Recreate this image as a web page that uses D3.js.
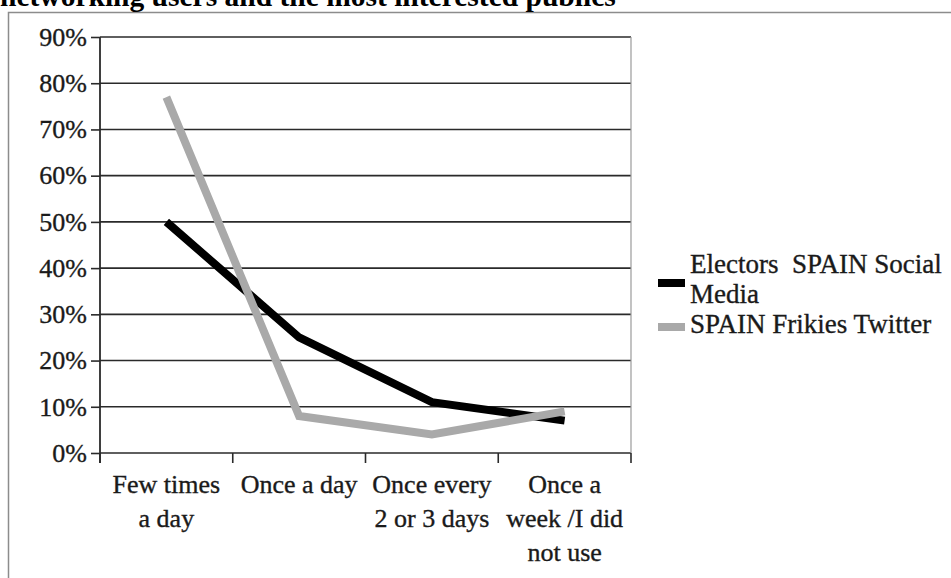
<!DOCTYPE html>
<html>
<head>
<meta charset="utf-8">
<script src="https://cdn.jsdelivr.net/npm/d3@7"></script>
<style>
  html, body { margin: 0; padding: 0; background: #fff; }
  svg { display: block; }
  text { font-family: "Liberation Serif", "Times New Roman", serif; fill: #1a1a1a; stroke: #1a1a1a; stroke-width: 0.35px; }
  text.title { stroke: none; }
</style>
</head>
<body>
<svg id="chart" width="951" height="578"></svg>
<script>
const title = "networking users and the most interested publics";
const categories = ["Few times a day", "Once a day", "Once every 2 or 3 days", "Once a week /I did not use"];
const categoryLines = [["Few times", "a day"], ["Once a day"], ["Once every", "2 or 3 days"], ["Once a", "week /I did", "not use"]];
const electors = [0.50, 0.25, 0.11, 0.07];
const frikies = [0.77, 0.08, 0.04, 0.09];
const yTicks = [0, 0.1, 0.2, 0.3, 0.4, 0.5, 0.6, 0.7, 0.8, 0.9];
const seriesNames = [["Electors\u00a0\u00a0SPAIN Social", "Media"], ["SPAIN Frikies Twitter"]];

(function () {
const svg = d3.select("#chart");
const pL = 100, pR = 631, pT = 37, pB = 453;
const fs = 26;

// outer frame
svg.append("rect").attr("x", 8.5).attr("y", 12.5).attr("width", 1000).attr("height", 700)
  .attr("fill", "none").attr("stroke", "#8c8c8c").attr("stroke-width", 1.5);

// title (cut at top, as in the source)
svg.append("text").attr("class", "title").attr("x", 0).attr("y", 6).attr("font-weight", "bold")
  .style("font-size", "29.5px").style("fill", "#000").text(title);

const x = d3.scaleBand().domain(categories).range([pL, pR]);
const y = d3.scaleLinear().domain([0, 0.9]).range([pB, pT]);

// gridlines
svg.append("g").selectAll("line").data(yTicks).join("line")
  .attr("x1", pL).attr("x2", pR)
  .attr("y1", d => y(d)).attr("y2", d => y(d))
  .attr("stroke", "#2a2a2a").attr("stroke-width", 1.6);

// right border of plot
svg.append("line").attr("x1", pR).attr("x2", pR).attr("y1", pT).attr("y2", pB)
  .attr("stroke", "#9a9a9a").attr("stroke-width", 1.2);

// y axis
const yAxis = svg.append("g").attr("transform", `translate(${pL},0)`)
  .call(d3.axisLeft(y).tickValues(yTicks).tickFormat(d3.format(".0%")).tickSize(9).tickSizeOuter(0).tickPadding(4));
yAxis.attr("font-family", null).attr("font-size", null);
yAxis.select(".domain").remove();
yAxis.selectAll(".tick line").attr("stroke", "#2a2a2a").attr("stroke-width", 1.6);
yAxis.selectAll(".tick text").style("font-size", fs + "px").attr("fill", "#1a1a1a");
svg.append("line").attr("x1", pL).attr("x2", pL).attr("y1", pT).attr("y2", pB + 10)
  .attr("stroke", "#2a2a2a").attr("stroke-width", 1.8);

// x axis ticks at band boundaries
const boundaries = categories.map(c => x(c)).concat([x(categories[categories.length - 1]) + x.bandwidth()]);
svg.append("g").selectAll("line").data(boundaries).join("line")
  .attr("x1", d => d).attr("x2", d => d).attr("y1", pB).attr("y2", pB + 10)
  .attr("stroke", "#2a2a2a").attr("stroke-width", 1.6);

// x labels
const xl = svg.append("g").selectAll("text").data(categories).join("text")
  .attr("text-anchor", "middle")
  .attr("transform", d => `translate(${x(d) + x.bandwidth() / 2},493)`)
  .style("font-size", fs + "px");
xl.selectAll("tspan").data((d, i) => categoryLines[i]).join("tspan")
  .attr("x", 0).attr("dy", (d, i) => i === 0 ? 0 : 34).text(d => d);

// lines
const line = d3.line().x((d, i) => x(categories[i]) + x.bandwidth() / 2).y(d => y(d));
svg.append("path").datum(electors).attr("d", line).attr("fill", "none")
  .attr("stroke", "#000").attr("stroke-width", 8);
svg.append("path").datum(frikies).attr("d", line).attr("fill", "none")
  .attr("stroke", "#a9a9a9").attr("stroke-width", 8);

// legend
const colors = ["#000", "#a9a9a9"];
const swY = [283, 327];
const txtY = [273, 333];
seriesNames.forEach((lines, i) => {
  svg.append("rect").attr("x", 658).attr("y", swY[i] - 4).attr("width", 27).attr("height", 8)
    .attr("fill", colors[i]);
  const t = svg.append("text").attr("x", 690).attr("y", txtY[i]).style("font-size", "27px");
  lines.forEach((s, j) => t.append("tspan").attr("x", 690).attr("dy", j === 0 ? 0 : 30).text(s));
});
})();
</script>
</body>
</html>
